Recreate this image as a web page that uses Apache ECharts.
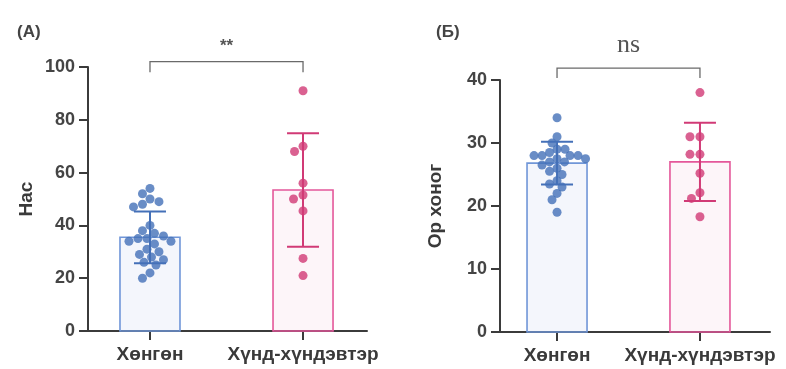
<!DOCTYPE html>
<html><head><meta charset="utf-8">
<script src="https://cdn.jsdelivr.net/npm/echarts@6/dist/echarts.min.js"></script>
<style>html,body{margin:0;padding:0;background:#fff}#c{width:786px;height:369px}</style>
</head><body><div id="c"></div>
<script>
// ---- data ----
const categories = ['Хөнгөн', 'Хүнд-хүндэвтэр'];
const ageMild = [54, 52, 50, 49, 48, 47, 40, 38, 37, 36, 35, 35, 34, 34, 33, 31, 30, 29, 28, 27, 26, 25, 22, 20];
const ageSevere = [91, 70, 68, 56, 51.5, 50, 45.5, 27.5, 21];
const ageMean = [35.5, 53.4];
const ageSD = [9.8, 21.5];
const daysMild = [34, 31, 30, 29, 29, 28.5, 28, 28, 28, 28, 27.5, 27.5, 27, 27, 26.5, 26, 25.5, 25, 24, 23.5, 23, 22, 21, 19];
const daysSevere = [38, 31, 31, 28.2, 28.2, 25.2, 22.1, 21.2, 18.3];
const daysMean = [26.8, 27.0];
const daysSD = [3.4, 6.2];
const ageTicks = [0, 20, 40, 60, 80, 100];
const daysTicks = [0, 10, 20, 30, 40];
const panelLabels = ['(A)', '(Б)'];
const sigLabels = ['**', 'ns'];

// ---- layout ----
const G = [
  {left: 88, top: 67, width: 279, height: 264, xmin: -0.405, xmax: 1.418, ymax: 100},
  {left: 500, top: 80, width: 270, height: 252, xmin: -0.399, xmax: 1.49, ymax: 40}
];
const BLUE = '#4470b8', BLUE_L = '#7096d8', PINK = '#d13a76', PINK_L = '#e4579a';
const AX = '#3b3b3b';
const FONT = 'Liberation Sans, Arial, sans-serif';

function swarm(values, cat, g, d) {
  const pxY = g.height / g.ymax;
  const pxX = g.width / (g.xmax - g.xmin);
  const sorted = values.slice().sort((a, b) => b - a);
  const placed = [], out = [];
  sorted.forEach(v => {
    const y = v * pxY;
    let off = 0;
    for (let k = 0; k < 400; k++) {
      const cand = (k % 2 === 0 ? 1 : -1) * Math.ceil(k / 2) * 0.5;
      let ok = true;
      for (const p of placed) {
        const dx = p[0] - cand, dy = p[1] - y;
        if (dx * dx + dy * dy < d * d) { ok = false; break; }
      }
      if (ok) { off = cand; break; }
    }
    placed.push([off, y]);
    out.push([cat + off / pxX, v]);
  });
  return out;
}

function barItem(colorStroke, colorFill) {
  return function (params, api) {
    const c = api.value(0), m = api.value(1);
    const top = api.coord([c, m]), bot = api.coord([c, 0]);
    const hw = 30;
    return {type: 'rect', shape: {x: top[0] - hw, y: top[1], width: 2 * hw, height: bot[1] - top[1]},
      style: {fill: colorFill, stroke: colorStroke, lineWidth: 1.6}};
  };
}
function errItem(color) {
  return function (params, api) {
    const c = api.value(0), m = api.value(1), s = api.value(2);
    const hi = api.coord([c, m + s]), lo = api.coord([c, m - s]);
    const cw = 16;
    const st = {stroke: color, lineWidth: 2};
    return {type: 'group', children: [
      {type: 'line', shape: {x1: hi[0], y1: hi[1], x2: lo[0], y2: lo[1]}, style: st},
      {type: 'line', shape: {x1: hi[0] - cw, y1: hi[1], x2: hi[0] + cw, y2: hi[1]}, style: st},
      {type: 'line', shape: {x1: lo[0] - cw, y1: lo[1], x2: lo[0] + cw, y2: lo[1]}, style: st}
    ]};
  };
}
function bracketItem(label, font) {
  return function (params, api) {
    const x0 = api.value(0), x1 = api.value(1), yh = api.value(2), yl = api.value(3), yt = api.value(4);
    const a = api.coord([x0, yl]), b = api.coord([x0, yh]), c = api.coord([x1, yh]), d = api.coord([x1, yl]);
    const t = api.coord([(x0 + x1) / 2, yt]);
    return {type: 'group', children: [
      {type: 'polyline', shape: {points: [a, b, c, d]}, style: {stroke: '#6a6a6a', lineWidth: 1.3, fill: null}},
      {type: 'text', x: t[0], y: t[1], style: Object.assign({text: label, fill: '#555', align: 'center', verticalAlign: 'middle'}, font)}
    ]};
  };
}

const xAxes = G.map((g, i) => ({
  type: 'value', gridIndex: i, min: g.xmin, max: g.xmax,
  splitLine: {show: false},
  axisLine: {show: true, onZero: false, lineStyle: {color: AX, width: 2}},
  axisTick: {show: true, customValues: [0, 1], length: 9, lineStyle: {color: AX, width: 2}},
  axisLabel: {customValues: [0, 1], formatter: v => categories[Math.round(v)], margin: 14,
    fontFamily: FONT, fontWeight: 'bold', fontSize: 19, color: '#3a3a3a'}
}));
const yAxes = G.map((g, i) => ({
  type: 'value', gridIndex: i, min: 0, max: g.ymax, interval: g.ymax / (i === 0 ? 5 : 4),
  splitLine: {show: false},
  axisLine: {show: true, onZero: false, lineStyle: {color: AX, width: 2}},
  axisTick: {show: true, length: 9, lineStyle: {color: AX, width: 2}},
  axisLabel: {margin: 13, fontFamily: FONT, fontWeight: 'bold', fontSize: 18, color: '#444',
    customValues: i === 0 ? ageTicks : daysTicks},
  name: i === 0 ? 'Нас' : 'Ор хоног', nameLocation: 'middle', nameRotate: 90, nameGap: i === 0 ? 52 : 55,
  nameTextStyle: {fontFamily: FONT, fontWeight: 'bold', fontSize: 19, color: '#3a3a3a'}
}));

const series = [];
series.push({type: 'custom', xAxisIndex: 0, yAxisIndex: 0, z: 1, renderItem: barItem(BLUE_L, 'rgba(110,145,215,0.08)'), data: [[0, ageMean[0]]]});
series.push({type: 'custom', xAxisIndex: 0, yAxisIndex: 0, z: 1, renderItem: barItem(PINK_L, 'rgba(228,87,154,0.06)'), data: [[1, ageMean[1]]]});
series.push({type: 'scatter', xAxisIndex: 0, yAxisIndex: 0, z: 3, symbolSize: 9, itemStyle: {color: BLUE}, data: swarm(ageMild, 0, G[0], 9)});
series.push({type: 'scatter', xAxisIndex: 0, yAxisIndex: 0, z: 3, symbolSize: 9, itemStyle: {color: PINK}, data: swarm(ageSevere, 1, G[0], 10)});
series.push({type: 'custom', xAxisIndex: 0, yAxisIndex: 0, z: 4, renderItem: errItem(BLUE), data: [[0, ageMean[0], ageSD[0]]]});
series.push({type: 'custom', xAxisIndex: 0, yAxisIndex: 0, z: 4, renderItem: errItem(PINK), data: [[1, ageMean[1], ageSD[1]]]});
series.push({type: 'custom', xAxisIndex: 0, yAxisIndex: 0, z: 5, clip: false, silent: true,
  renderItem: bracketItem(sigLabels[0], {fontSize: 17, fontWeight: 'bold', fontFamily: FONT}), data: [[0, 1, 102, 98, 108]]});
series.push({type: 'custom', xAxisIndex: 1, yAxisIndex: 1, z: 1, renderItem: barItem(BLUE_L, 'rgba(110,145,215,0.08)'), data: [[0, daysMean[0]]]});
series.push({type: 'custom', xAxisIndex: 1, yAxisIndex: 1, z: 1, renderItem: barItem(PINK_L, 'rgba(228,87,154,0.06)'), data: [[1, daysMean[1]]]});
series.push({type: 'scatter', xAxisIndex: 1, yAxisIndex: 1, z: 3, symbolSize: 9, itemStyle: {color: BLUE}, data: swarm(daysMild, 0, G[1], 8)});
series.push({type: 'scatter', xAxisIndex: 1, yAxisIndex: 1, z: 3, symbolSize: 9, itemStyle: {color: PINK}, data: swarm(daysSevere, 1, G[1], 10)});
series.push({type: 'custom', xAxisIndex: 1, yAxisIndex: 1, z: 4, renderItem: errItem(BLUE), data: [[0, daysMean[0], daysSD[0]]]});
series.push({type: 'custom', xAxisIndex: 1, yAxisIndex: 1, z: 4, renderItem: errItem(PINK), data: [[1, daysMean[1], daysSD[1]]]});
series.push({type: 'custom', xAxisIndex: 1, yAxisIndex: 1, z: 5, clip: false, silent: true,
  renderItem: bracketItem(sigLabels[1], {fontSize: 26, fontFamily: 'Liberation Serif, Times New Roman, serif'}), data: [[0, 1, 41.9, 40.3, 45.5]]});

const chart = echarts.init(document.getElementById('c'), null, {renderer: 'canvas'});
chart.setOption({
  animation: false,
  backgroundColor: '#fff',
  title: [
    {text: panelLabels[0], left: 12, top: 19, textStyle: {fontFamily: FONT, fontWeight: 'bold', fontSize: 17, color: '#444'}},
    {text: panelLabels[1], left: 431, top: 19, textStyle: {fontFamily: FONT, fontWeight: 'bold', fontSize: 17, color: '#444'}}
  ],
  grid: G.map(g => ({left: g.left, top: g.top, width: g.width, height: g.height})),
  xAxis: xAxes,
  yAxis: yAxes,
  series: series
});
</script></body></html>
